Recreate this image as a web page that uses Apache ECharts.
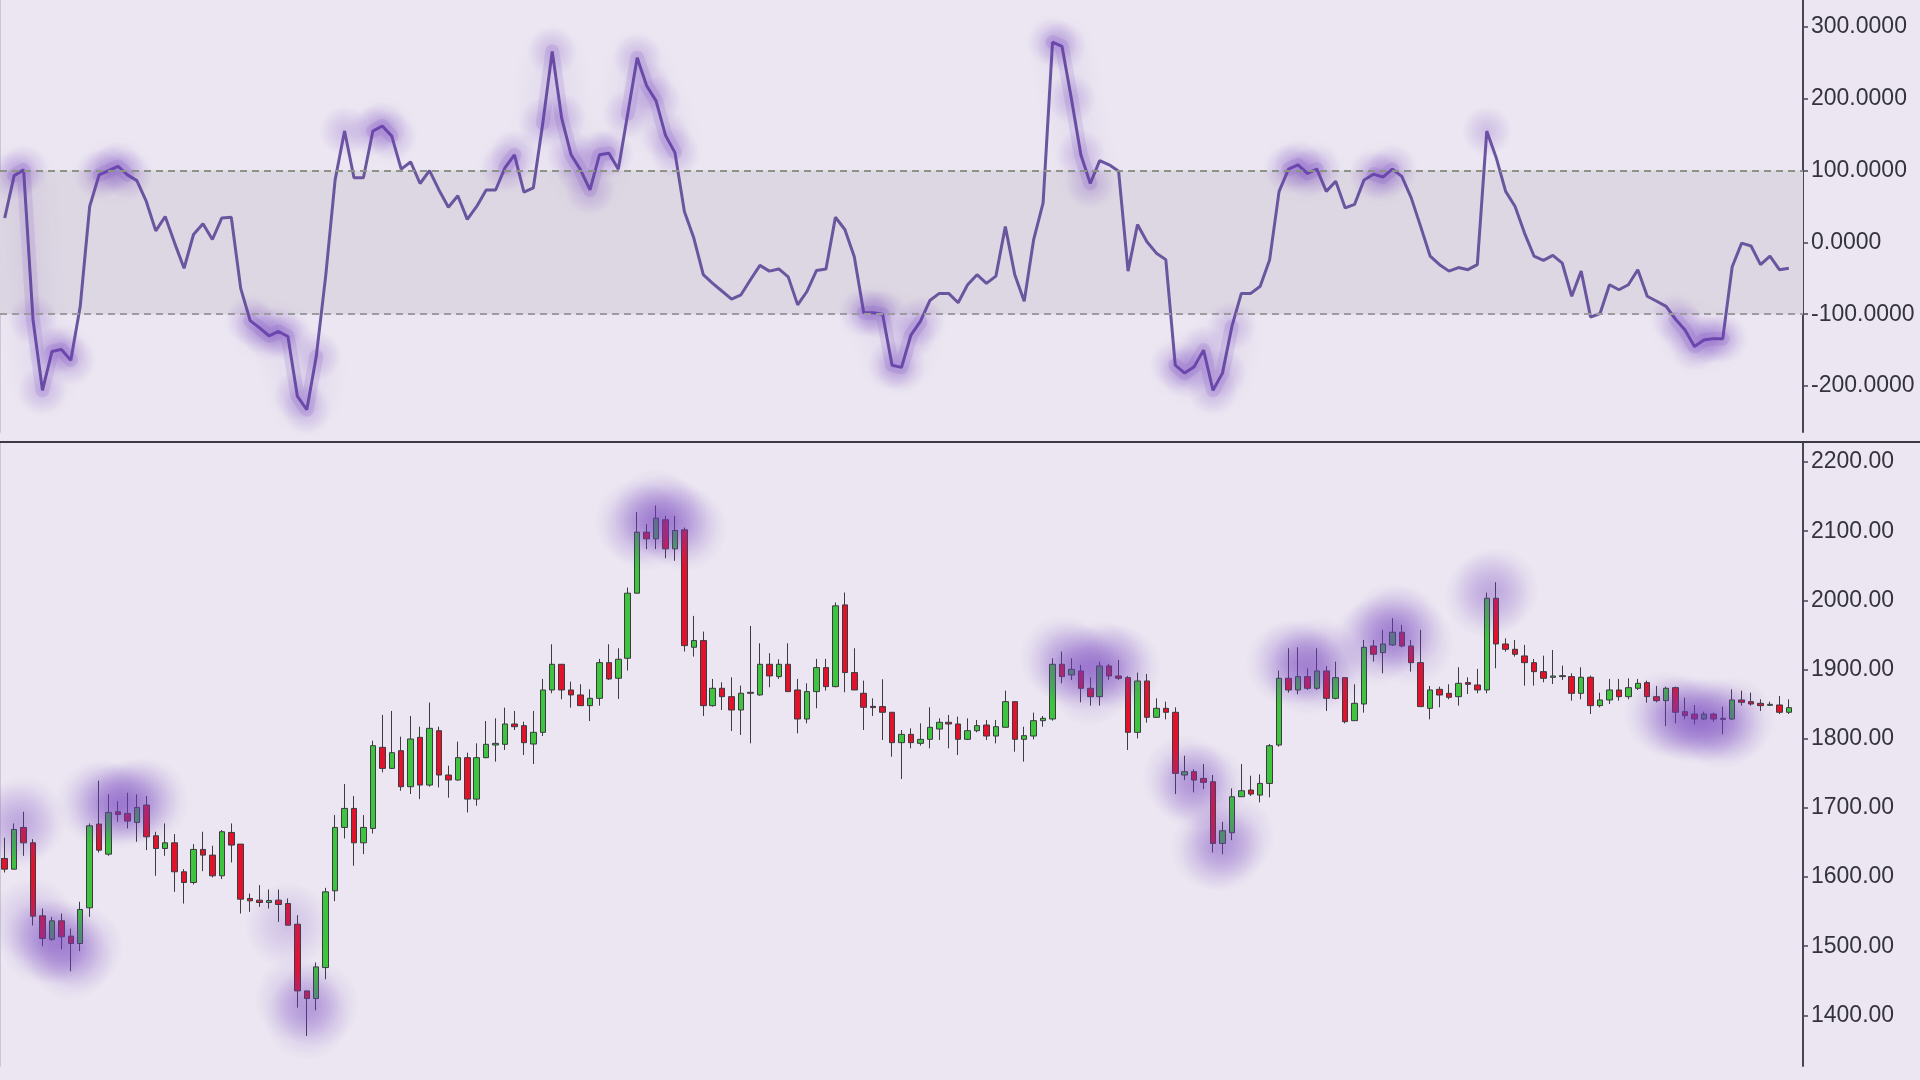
<!DOCTYPE html>
<html>
<head>
<meta charset="utf-8">
<script src="https://cdn.jsdelivr.net/npm/echarts@6/dist/echarts.min.js"></script>
<style>
html,body{margin:0;padding:0;background:#ebe6f1;}
#chart{width:1920px;height:1080px;}
</style>
</head>
<body>
<div id="chart"></div>
<script>
const opens = [1626.9,1611.4,1671.7,1649.5,1543.9,1510.0,1536.7,1514.5,1503.9,1555.5,1676.6,1633.1,1694.4,1692.0,1679.0,1704.1,1659.7,1641.3,1649.5,1607.6,1592.1,1639.9,1631.7,1601.8,1664.5,1647.6,1569.0,1566.6,1563.2,1566.6,1561.7,1531.8,1435.4,1424.3,1469.1,1580.1,1671.7,1699.2,1649.5,1670.3,1787.5,1757.1,1782.7,1730.6,1802.0,1733.0,1811.6,1747.5,1740.3,1772.6,1712.7,1772.6,1790.9,1791.9,1821.3,1818.9,1792.3,1809.2,1870.5,1907.6,1870.5,1863.3,1847.8,1858.4,1910.0,1887.4,1916.3,2010.4,2098.7,2089.0,2116.5,2074.5,2102.0,1932.2,1941.9,1847.8,1872.9,1860.8,1841.5,1867.1,1863.3,1907.6,1889.8,1907.6,1870.5,1828.5,1868.1,1902.8,1875.3,1993.5,1895.6,1865.7,1846.8,1846.4,1838.2,1794.3,1806.3,1793.3,1799.1,1814.0,1823.7,1821.3,1799.1,1811.6,1819.8,1803.9,1816.5,1853.6,1799.1,1803.9,1826.1,1828.5,1907.6,1892.2,1898.0,1872.9,1860.8,1905.2,1890.7,1888.3,1809.2,1883.5,1830.9,1843.9,1838.2,1747.5,1752.3,1742.6,1737.8,1648.6,1664.0,1716.1,1725.8,1718.5,1735.4,1790.9,1887.4,1870.5,1889.8,1872.9,1898.0,1858.4,1888.3,1826.1,1850.2,1934.1,1924.5,1935.6,1953.9,1934.1,1910.0,1843.9,1871.4,1865.6,1860.8,1881.1,1877.7,1870.5,2003.1,1937.0,1929.3,1919.7,1910.0,1897.0,1888.8,1889.8,1889.8,1865.6,1888.8,1847.8,1856.0,1870.5,1860.8,1872.9,1881.1,1860.8,1855.0,1873.8,1839.1,1835.7,1828.5,1835.7,1829.5,1828.5,1856.0,1853.6,1851.2,1848.3,1848.8,1838.2];
const highs = [1656.8,1677.5,1694.4,1654.8,1554.5,1542.4,1547.3,1525.6,1564.2,1677.5,1739.3,1719.5,1709.8,1721.9,1719.5,1717.1,1665.5,1677.5,1662.1,1611.4,1647.6,1665.5,1645.2,1667.9,1677.5,1647.6,1576.2,1588.3,1582.0,1582.0,1569.0,1544.9,1435.4,1476.4,1584.4,1689.6,1734.5,1717.1,1689.6,1797.2,1834.3,1840.1,1803.0,1832.9,1817.4,1852.2,1817.4,1761.0,1795.7,1779.8,1793.3,1825.6,1829.5,1844.9,1840.1,1824.7,1840.1,1886.4,1936.6,1907.6,1882.5,1878.7,1871.5,1915.4,1936.6,1930.8,2018.6,2127.6,2110.2,2137.3,2122.3,2122.3,2105.4,1977.6,1954.9,1886.4,1881.6,1888.8,1876.8,1963.1,1938.0,1923.6,1914.9,1938.0,1886.4,1880.1,1915.4,1915.4,1996.9,2011.4,1930.8,1884.0,1858.4,1885.9,1838.2,1812.6,1815.0,1822.2,1845.4,1829.5,1834.3,1831.9,1829.5,1827.1,1827.1,1827.1,1869.5,1853.6,1817.4,1837.7,1832.9,1916.3,1926.0,1916.3,1906.7,1888.8,1911.5,1908.1,1913.9,1890.7,1895.6,1893.6,1858.4,1853.6,1845.4,1775.4,1755.7,1763.4,1747.5,1679.9,1728.2,1763.4,1746.5,1748.4,1792.3,1898.5,1930.8,1932.2,1901.8,1930.8,1905.2,1911.5,1888.3,1878.7,1942.8,1942.8,1957.3,1974.2,1964.5,1942.8,1957.3,1876.3,1875.3,1878.7,1903.3,1888.8,1900.9,2011.3,2026.3,1945.2,1942.8,1935.6,1915.3,1920.1,1928.3,1905.7,1894.6,1903.3,1891.2,1866.6,1886.4,1886.4,1887.3,1886.4,1884.0,1876.3,1875.3,1875.3,1859.4,1848.8,1839.1,1837.7,1846.4,1871.4,1869.5,1866.6,1857.0,1853.6,1861.8,1856.9];
const lows = [1606.6,1611.0,1630.7,1529.9,1500.0,1507.7,1495.6,1463.8,1492.8,1542.4,1635.5,1630.7,1679.9,1670.3,1651.0,1638.9,1601.8,1630.7,1578.6,1561.7,1589.2,1608.5,1599.4,1597.0,1621.1,1547.3,1549.7,1556.9,1554.5,1535.2,1530.4,1411.2,1370.2,1407.4,1452.2,1565.1,1655.8,1616.3,1633.1,1663.0,1751.3,1756.2,1724.8,1720.0,1712.7,1730.6,1729.6,1714.7,1739.3,1693.4,1703.1,1771.6,1766.8,1783.7,1812.6,1776.4,1763.4,1803.9,1865.7,1857.0,1844.9,1847.8,1825.6,1847.8,1885.0,1857.5,1898.5,2010.4,2074.1,2074.1,2061.0,2057.2,1926.0,1918.7,1832.9,1846.4,1841.5,1811.1,1805.4,1793.3,1862.3,1874.4,1886.4,1868.1,1807.8,1822.2,1844.0,1869.5,1874.4,1867.1,1870.5,1812.6,1832.9,1798.1,1774.0,1741.7,1786.1,1789.9,1786.1,1798.1,1786.1,1776.4,1798.1,1809.2,1798.1,1793.3,1816.5,1781.2,1766.8,1799.1,1817.4,1826.1,1880.1,1885.0,1852.6,1847.8,1847.8,1885.0,1885.0,1783.6,1800.5,1823.2,1830.9,1828.0,1720.0,1740.2,1722.4,1727.2,1635.5,1633.1,1653.4,1716.1,1717.1,1707.9,1715.2,1788.5,1866.6,1864.2,1870.5,1870.5,1840.1,1857.0,1822.2,1826.1,1837.7,1911.5,1894.6,1934.1,1932.2,1897.0,1846.4,1828.0,1845.4,1857.0,1847.8,1864.7,1865.6,1865.6,1901.8,1925.9,1918.7,1876.7,1876.7,1881.6,1879.1,1884.9,1855.0,1857.0,1835.7,1845.4,1850.2,1855.0,1857.0,1870.5,1852.1,1852.6,1818.4,1822.2,1828.0,1820.8,1827.0,1824.6,1806.3,1827.0,1847.8,1847.8,1840.1,1847.3,1835.7,1835.7];
const closes = [1611.4,1668.8,1649.5,1543.4,1511.1,1536.7,1513.5,1503.9,1553.1,1674.1,1638.9,1693.4,1690.5,1680.9,1700.7,1658.2,1641.3,1649.5,1607.6,1592.1,1639.9,1631.7,1601.8,1665.5,1646.2,1568.0,1565.6,1563.2,1566.1,1560.3,1530.4,1435.4,1424.3,1470.1,1578.6,1671.7,1699.2,1649.5,1671.7,1789.9,1757.1,1779.8,1730.6,1799.6,1733.0,1815.0,1747.5,1740.3,1772.6,1712.7,1772.6,1791.9,1793.3,1821.3,1817.4,1794.3,1809.2,1870.5,1907.6,1870.5,1863.3,1847.8,1858.4,1910.0,1886.4,1914.9,2010.4,2098.7,2089.0,2118.9,2074.5,2101.1,1934.6,1941.9,1847.8,1872.9,1860.8,1841.5,1865.7,1865.7,1907.6,1890.8,1907.6,1868.1,1828.5,1868.1,1902.8,1875.3,1992.1,1895.6,1870.5,1845.4,1845.0,1838.2,1794.3,1806.3,1794.3,1799.1,1816.5,1823.7,1821.3,1799.1,1811.6,1818.9,1803.9,1817.4,1853.6,1799.1,1804.4,1826.1,1829.5,1907.6,1889.8,1900.4,1872.9,1860.8,1905.2,1890.7,1887.4,1809.2,1883.5,1830.9,1843.9,1838.2,1749.9,1752.3,1740.2,1736.9,1648.6,1666.9,1716.1,1724.8,1720.0,1735.4,1789.9,1887.4,1870.5,1889.8,1872.9,1898.0,1858.4,1888.3,1824.6,1851.2,1932.2,1922.1,1937.0,1953.9,1934.1,1910.0,1846.4,1870.5,1863.2,1859.8,1880.1,1878.7,1870.5,2003.1,1937.0,1929.3,1922.1,1910.0,1897.0,1887.3,1890.7,1891.2,1865.6,1888.8,1847.8,1856.0,1870.5,1860.8,1873.8,1880.1,1860.8,1855.0,1872.9,1838.2,1833.3,1828.5,1835.7,1828.5,1828.0,1856.0,1852.6,1850.2,1847.8,1849.7,1838.2,1844.9];
const cci = [34,93,101,-108,-206,-152,-149,-164,-89,50,94,100,106,94,86,57,16,36,-1,-36,11,26,4,34,35,-64,-109,-119,-130,-124,-131,-214,-233,-159,-47,87,155,90,90,155,162,148,102,112,82,100,73,49,65,32,50,73,73,104,122,70,76,166,266,173,122,101,73,122,124,102,179,257,218,197,149,125,43,6,-45,-57,-68,-79,-73,-52,-32,-40,-37,-48,-87,-68,-39,-37,35,18,-20,-98,-98,-100,-171,-174,-129,-110,-81,-71,-71,-84,-59,-45,-57,-47,22,-45,-82,4,55,279,273,200,122,82,114,108,99,-40,25,1,-15,-24,-171,-182,-173,-150,-206,-182,-117,-71,-71,-61,-24,71,102,108,96,102,71,85,48,53,87,95,91,102,92,62,22,-19,-31,-40,-35,-38,-31,155,118,71,50,13,-19,-25,-18,-29,-75,-40,-104,-99,-59,-66,-59,-38,-75,-82,-89,-107,-122,-145,-136,-134,-134,-34,-1,-5,-31,-19,-38,-36];
// highlighted (glowing) bars
const cciGlowIdx = [1,2,3,4,5,6,7,10,11,12,13,26,27,28,29,30,31,32,33,36,39,40,41,53,54,57,58,59,60,61,62,63,64,66,67,68,69,70,71,91,92,93,94,95,96,97,111,112,113,114,115,124,125,126,127,128,129,130,136,137,138,139,145,146,147,157,177,178,179,180,181,182];
const priceGlowHighIdx = [1,2,10,11,12,13,14,15,67,68,69,70,71,72,112,113,114,115,116,117,118,136,137,138,139,140,145,146,147,148,149,157,158];
const priceGlowLowIdx = [3,4,5,6,7,8,30,31,32,33,125,126,127,128,129,130,176,177,178,179,180,181,182,183];
const cciTicks = [-200,-100,0,100,200,300];
const priceTicks = [1400,1500,1600,1700,1800,1900,2000,2100,2200];
const cciBand = [-100, 100];

const cats = opens.map((_, i) => String(i + 1));
cats.push('');
const candleData = opens.map((o, i) => [o, closes[i], lows[i], highs[i]]);
const cciGlowSet = new Set(cciGlowIdx);
const cciGlowPts = cciGlowIdx.map(i => [i, cci[i]]);
const cciGlowLine = cci.map((v, i) => cciGlowSet.has(i) ? v : '-');
const candleGlowPts = priceGlowHighIdx.map(i => [i, (highs[i] + Math.max(opens[i], closes[i])) / 2])
  .concat(priceGlowLowIdx.map(i => [i, (lows[i] + Math.min(opens[i], closes[i])) / 2]));

function softGlow(a) {
  return {
    type: 'radial', x: 0.5, y: 0.5, r: 0.5,
    colorStops: [
      { offset: 0, color: 'rgba(112,60,188,' + a + ')' },
      { offset: 0.45, color: 'rgba(112,60,188,' + (a * 0.6) + ')' },
      { offset: 1, color: 'rgba(112,60,188,0)' }
    ]
  };
}

const axisColor = '#4a4556';
const labelStyle = { color: '#34323d', fontSize: 23, fontFamily: 'Liberation Sans, Arial, sans-serif', margin: 8 };

const chart = echarts.init(document.getElementById('chart'), null, { renderer: 'canvas' });
chart.setOption({
  animation: false,
  backgroundColor: '#ebe6f1',
  grid: [
    { left: 0, top: 0, width: 1803, height: 432 },
    { left: 0, top: 442, width: 1803, height: 624 }
  ],
  xAxis: [
    { type: 'category', gridIndex: 0, data: cats, show: false, boundaryGap: true },
    { type: 'category', gridIndex: 1, data: cats, show: false, boundaryGap: true }
  ],
  yAxis: [
    {
      type: 'value', gridIndex: 0, position: 'right', min: -264, max: 337.5,
      splitLine: { show: false },
      axisLine: { show: true, lineStyle: { color: axisColor, width: 2 } },
      axisTick: { show: true, length: 5, customValues: cciTicks, lineStyle: { color: axisColor, width: 1.5 } },
      axisLabel: Object.assign({ customValues: cciTicks, formatter: v => v.toFixed(4) }, labelStyle)
    },
    {
      type: 'value', gridIndex: 1, position: 'right', min: 1326.8, max: 2229,
      splitLine: { show: false },
      axisLine: { show: true, lineStyle: { color: axisColor, width: 2 } },
      axisTick: { show: true, length: 5, customValues: priceTicks, lineStyle: { color: axisColor, width: 1.5 } },
      axisLabel: Object.assign({ customValues: priceTicks, formatter: v => v.toFixed(2) }, labelStyle)
    },
    {
      type: 'value', gridIndex: 0, position: 'left', min: -264, max: 337.5,
      splitLine: { show: false }, axisTick: { show: false }, axisLabel: { show: false },
      axisLine: { show: true, lineStyle: { color: '#cdc6d9', width: 2 } }
    },
    {
      type: 'value', gridIndex: 1, position: 'left', min: 1326.8, max: 2229,
      splitLine: { show: false }, axisTick: { show: false }, axisLabel: { show: false },
      axisLine: { show: true, lineStyle: { color: '#cdc6d9', width: 2 } }
    }
  ],
  graphic: [
    { type: 'line', z: 100, shape: { x1: 0, y1: 442, x2: 1920, y2: 442 }, style: { stroke: '#3c3946', lineWidth: 2 } }
  ],
  series: [
    {
      name: 'CCI', type: 'line', xAxisIndex: 0, yAxisIndex: 0, data: cci,
      symbol: 'none', z: 3,
      lineStyle: { color: '#6a559f', width: 3 },
      markArea: {
        silent: true,
        itemStyle: { color: '#ddd7e3' },
        data: [[{ yAxis: cciBand[0] }, { yAxis: cciBand[1] }]]
      },
      markLine: {
        silent: true, symbol: 'none', label: { show: false },
        lineStyle: { type: [7, 5], width: 2 },
        data: [
          { yAxis: cciBand[1], lineStyle: { color: '#8b9486', type: [7, 5], width: 2 } },
          { yAxis: cciBand[0], lineStyle: { color: '#9d9aa2', type: [7, 5], width: 2 } }
        ]
      }
    },
    {
      name: 'CCI glow line', type: 'line', xAxisIndex: 0, yAxisIndex: 0, data: cciGlowLine,
      symbol: 'none', z: 4, silent: true, connectNulls: false,
      lineStyle: { color: 'rgba(100,50,180,0.12)', width: 14, cap: 'round', join: 'round', shadowBlur: 30, shadowColor: 'rgba(100,50,180,1)' }
    },
    {
      name: 'CCI glow', type: 'scatter', xAxisIndex: 0, yAxisIndex: 0, data: cciGlowPts,
      symbolSize: 50, z: 4, silent: true,
      itemStyle: { color: softGlow(0.3) }
    },
    {
      name: 'Price', type: 'candlestick', xAxisIndex: 1, yAxisIndex: 1, data: candleData,
      barWidth: 6, z: 3,
      itemStyle: {
        color: '#3ec43e', color0: '#e3122b',
        borderColor: '#3b3b40', borderColor0: '#3b3b40', borderWidth: 1
      }
    },
    {
      name: 'Price glow', type: 'scatter', xAxisIndex: 1, yAxisIndex: 1, data: candleGlowPts,
      symbolSize: 86, z: 4, silent: true,
      itemStyle: { color: softGlow(0.28) }
    }
  ]
});
</script>
</body>
</html>
